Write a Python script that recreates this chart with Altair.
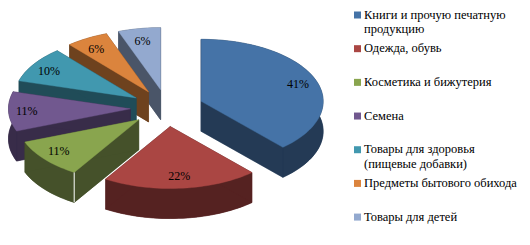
import math
import altair as alt

# Data
categories = ["Книги и прочую печатную\nпродукцию", "Одежда, обувь", "Косметика и бижутерия", "Семена",
              "Товары для здоровья\n(пищевые добавки)", "Предметы бытового обихода", "Товары для детей"]
values = [41, 22, 11, 11, 10, 6, 6]
top_colors = ["#4573A7", "#AA4643", "#89A54E", "#71588F", "#4198AF", "#DB843D", "#93A9CF"]
side_colors = ["#243A55", "#552221", "#45512A", "#382C49", "#204C58", "#6E421E", "#4A5568"]

# Pie geometry, in page pixels
CX, CY, RX, RY, DEPTH, EXPLODE = 167.0, 108.0, 122.0, 62.0, 30.0, 0.30
LABEL_KX, LABEL_KY = 0.85, 0.80
W, H, M = 530, 245, 8
total = sum(values)


def pt(c, t, k=1.0, dy=0.0):
    a = math.radians(t)
    return [c[0] + k * RX * math.sin(a), c[1] - k * RY * math.cos(a) + dy]


def poly(coords, fill, stroke):
    return {"type": "Feature", "properties": {"fill": fill, "stroke": stroke, "sw": 0.4},
            "geometry": {"type": "Polygon", "coordinates": [coords + [coords[0]]]}}


features, labels = [], []
spans, cum = [], 0
for v in values:
    spans.append((cum * 360 / total, (cum + v) * 360 / total))
    cum += v

order = [6, 5, 4, 3, 2, 0, 1]
for i in order:
    t0, t1 = spans[i]
    tm = (t0 + t1) / 2
    c = pt((CX, CY), tm, EXPLODE)
    n = max(2, int((t1 - t0) / 2))
    ts = [t0 + (t1 - t0) * j / n for j in range(n + 1)]
    arc = [pt(c, t) for t in ts]
    arc_low = [pt(c, t, dy=DEPTH) for t in ts]
    dark, light = side_colors[i], top_colors[i]
    c_low = [c[0], c[1] + DEPTH]
    features.append(poly([c_low] + arc_low, dark, dark))
    features.append(poly(arc + arc_low[::-1], dark, dark))
    features.append(poly([c, arc[0], arc_low[0], c_low], dark, dark))
    features.append(poly([c, arc[-1], arc_low[-1], c_low], dark, dark))
    features.append(poly([c] + arc, light, light))
    labels.append({"x": pt(c, tm, LABEL_KX)[0], "y": pt(c, tm, LABEL_KY)[1], "t": f"{values[i]}%"})
    if i == 2:  # thin white seam between the outer and radial walls
        features.append({"type": "Feature", "properties": {"fill": "none", "stroke": "white", "sw": 1},
                         "geometry": {"type": "LineString", "coordinates": [arc[0], arc_low[0]]}})

PW, PH = W - 2 * M, H - 2 * M
x_scale = alt.Scale(domain=[M, M + PW], range=[0, PW])
y_scale = alt.Scale(domain=[M, M + PH], range=[0, PH])

pie = alt.Chart(alt.InlineData(values={"type": "FeatureCollection", "features": features},
                               format=alt.DataFormat(property="features", type="json"))).mark_geoshape().encode(
    fill=alt.Fill("properties.fill:N", scale=None),
    stroke=alt.Stroke("properties.stroke:N", scale=None),
    strokeWidth=alt.StrokeWidth("properties.sw:Q", scale=None),
).project(type="identity", scale=1, translate=[-M, -M])

pct = alt.Chart(alt.Data(values=labels)).mark_text(
    font="Liberation Serif", fontSize=12, color="black", baseline="middle", align="center"
).encode(
    x=alt.X("x:Q", scale=x_scale, axis=None),
    y=alt.Y("y:Q", scale=y_scale, axis=None),
    text="t:N",
)

leg_rows = [{"name": n, "sy": 15 + 33.68 * i, "ty": 8.5 + 33.68 * i, "sx": 357.5, "tx": 364, "col": top_colors[i]}
            for i, n in enumerate(categories)]

swatches = alt.Chart(alt.Data(values=leg_rows)).mark_square(size=49, opacity=1).encode(
    x=alt.X("sx:Q", scale=x_scale, axis=None),
    y=alt.Y("sy:Q", scale=y_scale, axis=None),
    fill=alt.Fill("col:N", scale=None),
)

leg_text = alt.Chart(alt.Data(values=leg_rows)).transform_calculate(
    lines="split(datum.name, '\\n')"
).mark_text(
    font="Liberation Serif", fontSize=12.5, color="black", baseline="top", align="left", lineHeight=14.5
).encode(
    x=alt.X("tx:Q", scale=x_scale, axis=None),
    y=alt.Y("ty:Q", scale=y_scale, axis=None),
    text="lines:N",
)

chart = alt.layer(pie, pct, swatches, leg_text).resolve_scale(
    x="shared", y="shared"
).properties(
    width=PW, height=PH, padding=0, autosize=alt.AutoSizeParams(type="none"), background="white"
).configure_view(stroke=None)

chart.save("out.html", embed_options={"renderer": "svg", "actions": False})
